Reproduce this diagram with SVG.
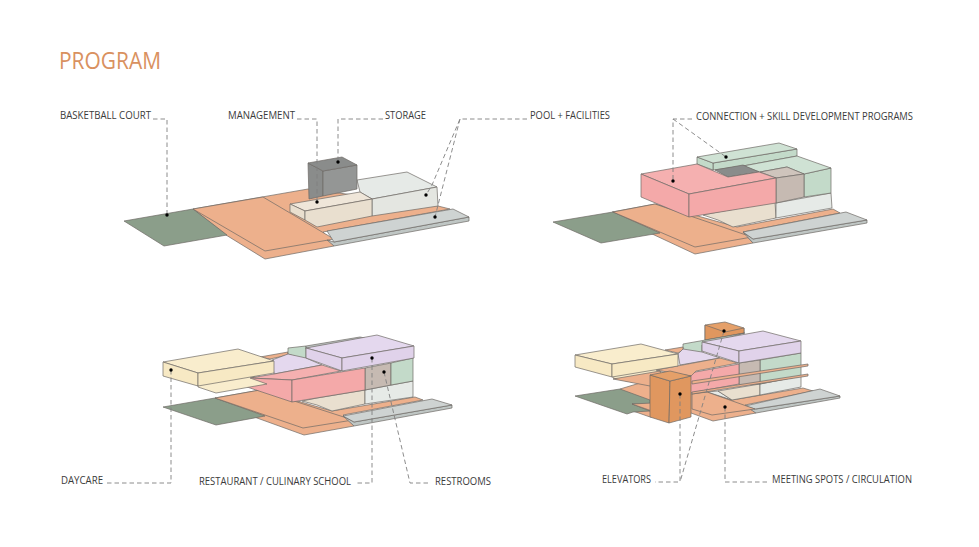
<svg xmlns="http://www.w3.org/2000/svg" width="979" height="547" viewBox="0 0 979 547">
<style>
text{font-family:"Open Sans","Noto Sans","Liberation Sans",sans-serif;font-size:11px;fill:#3a3a3a}
.title{font-size:24px;font-weight:400;fill:#d9915f}
polygon{stroke:#6f6a66;stroke-width:.7;stroke-linejoin:round}
.ct{fill:#8b9e8a}.o{fill:#edb08c}.g{fill:#ced3d2}.g2{fill:#bfc6c4}
.b{fill:#e9dfcf}.b2{fill:#efe6d9}.w{fill:#e6eae7}.w2{fill:#e4e6e1}
.d{fill:#8a8c8b}.d2{fill:#949695}.t{fill:#c6bab2}.t2{fill:#cfc4bc}
.gr{fill:#c3dac9}.gr2{fill:#cfe2d4}.p{fill:#f4a9a9}.p2{fill:#f5b0b0}
.v{fill:#e0d2ea}.v2{fill:#e4d8ee}.c{fill:#f7e9c4}.c2{fill:#f9edcd}
.e{fill:#e0975f}.e2{fill:#e5a069}
.l{fill:none;stroke:#808080;stroke-width:.9;stroke-dasharray:4.5 3}
.dot{fill:#000}
</style>
<rect width="979" height="547" fill="#fff"/>
<text class="title" x="59" y="69" textLength="102" lengthAdjust="spacingAndGlyphs">PROGRAM</text>

<g id="scene-1">
<polygon class="o" points="193,209 308,189 438,206 450,209 323,232 334,246 265,259 226,235"/>
<polygon class="ct" points="124,221 193,209 227,235 164,246"/>
<polygon class="o" points="193,209 263,197 334,239 265,251"/>
<polygon class="g2" points="327,240 334,242 469,217 469,221 334,246"/>
<polygon class="g" points="327,231 453,209 469,217 334,242"/>
<polygon class="w" points="357,180 407,172 437,187 372,199 360,192"/>
<polygon class="w2" points="372,199 437,187 438,206 372,216"/>
<polygon class="d" points="308,163 323,171 323,196 309,199"/>
<polygon class="d2" points="323,171 357,165 357,189 323,196"/>
<polygon class="d" points="308,163 342,157 357,165 323,171"/>
<polygon class="b2" points="290,204 360,192 372,199 305,211"/>
<polygon class="b" points="290,204 305,211 305,220 290,212"/>
<polygon class="b" points="305,211 372,199 372,216 317,227 305,220"/>
</g>

<g id="scene-2">
<polygon class="o" points="612,212 655,204 737,227 833,209 840,213 743,232 753,243 695,254 650,233"/>
<polygon class="ct" points="553,222 613,212 660,233 601,243"/>
<polygon class="o" points="613,212 655,204 752,237 695,247"/>
<polygon class="g2" points="743,232 753,239 867,220 867,223 753,243"/>
<polygon class="g" points="743,232 846,212 867,220 753,239"/>
<polygon class="b" points="703,215 718,212 775,202 776,218 733,227 718,220"/>
<polygon class="w" points="776,203 831,193 832,208 776,218"/>
<polygon class="gr" points="804,174 831,168 831,193 804,197"/>
<polygon class="gr" points="713,163 797,149 797,156 743,166 713,170"/>
<polygon class="gr2" points="743,166 797,156 831,168 804,174 787,167 760,172"/>
<polygon class="t2" points="760,172 787,167 804,174 776,178"/>
<polygon class="t" points="776,178 804,174 804,197 776,203"/>
<polygon class="gr" points="697,157 713,163 713,170 697,164"/>
<polygon class="gr2" points="697,157 779,143 797,149 713,163"/>
<polygon class="d" points="715,170 743,165 759,172 728,177"/>
<polygon class="p2" points="641,174 697,164 728,177 759,172 776,178 689,194"/>
<polygon class="p" points="641,174 689,194 689,217 641,197"/>
<polygon class="p" points="689,194 776,178 776,203 689,217"/>
</g>

<g id="scene-3">
<polygon class="o" points="215,398 260,390 332,411 415,397 423,400 343,415 354,426 304,435 257,418"/>
<polygon class="ct" points="163,407 215,398 265,416 216,425"/>
<polygon class="o" points="215,398 260,390 353,420 303,428"/>
<polygon class="g2" points="343,416 354,422 452,405 452,408 354,426"/>
<polygon class="g" points="343,416 432,399 452,405 354,422"/>
<polygon class="b" points="302,401 317,398 365,390 365,404 332,411 317,405"/>
<polygon class="w" points="365,390 413,381 413,397 365,404"/>
<polygon class="t" points="365,368 391,363 391,385 365,390"/>
<polygon class="gr" points="391,363 413,358 413,381 391,385"/>
<polygon class="o" points="260,357 288,352 288,355 270,359"/>
<polygon class="gr" points="288,348 306,346 306,360 288,354"/>
<polygon class="g2" points="306,346 360,337 365,338 306,349"/>
<polygon class="v2" points="272,360 288,354 306,358 322,365 274,374"/>
<polygon class="p2" points="250,378 274,374 322,365 341,371 292,380"/>
<polygon class="p" points="250,378 292,380 292,402 247,387"/>
<polygon class="p" points="292,380 365,368 365,390 292,402"/>
<polygon class="v2" points="306,348 377,335 414,346 342,358"/>
<polygon class="v" points="306,348 342,358 342,371 306,358"/>
<polygon class="v" points="342,358 414,346 414,358 342,371"/>
<polygon class="c2" points="198,380 274,370 250,378 267,384 216,393 198,387"/>
<polygon class="c2" points="163,362 238,349 274,361 198,373"/>
<polygon class="c" points="163,362 198,373 198,386 163,376"/>
<polygon class="c" points="198,373 274,361 274,373 198,386"/>
</g>

<g id="scene-4">
<polygon class="o" points="620,389 650,380 692,394 707,392 732,400 803,388 813,391 745,405 756,413 713,421 691,413 650,417 633,411"/>
<polygon class="ct" points="575,396 620,389 650,400 650,404 632,404 650,411 633,412 627,414"/>
<polygon class="o" points="632,404 652,403 652,411"/>
<polygon class="g2" points="745,406 756,409 840,396 840,398 756,413"/>
<polygon class="g" points="745,406 820,389 840,396 755,409"/>
<polygon class="w" points="707,392 718,391 732,400"/>
<polygon class="b" points="718,391 760,384 760,395 732,400"/>
<polygon class="w" points="760,384 801,376 801,387 760,395"/>
<polygon class="gr" points="760,360 801,353 801,376 760,384"/>
<polygon class="t" points="739,363 760,360 760,384 739,385"/>
<polygon class="o" points="692,394 707,392 755,409 712,415 692,409"/>
<polygon class="e2" points="705,325 725,322 744,328 744,333 705,340"/>
<polygon class="e" points="705,325 725,332 744,328 744,333 705,340"/>
<polygon class="gr" points="683,344 745,333 702,345 702,355 683,350"/>
<polygon class="o" points="665,350 683,347 683,350 678,353"/>
<polygon class="v2" points="678,354 683,349 702,352 720,358 680,365"/>
<polygon class="p" points="690,373 739,364 739,384 690,393"/>
<polygon class="o" points="656,370 720,358 738,363 696,371 691,376"/>
<polygon class="c2" points="612,372 678,362 656,370 665,373 632,382 613,378"/>
<polygon class="o" points="613,379 660,371 665,390 650,386"/>
<polygon class="o" points="692,381 808,364 808,366 692,384"/>
<polygon class="o" points="692,392 808,374 808,376 692,394"/>
<polygon class="v2" points="702,342 763,331 801,341 739,351"/>
<polygon class="v" points="702,342 739,351 739,363 702,351"/>
<polygon class="v" points="739,351 801,341 801,353 739,363"/>
<polygon class="c2" points="575,355 641,344 678,354 612,364"/>
<polygon class="c" points="575,355 612,364 612,377 575,367"/>
<polygon class="c" points="612,364 678,354 678,366 612,377"/>
<polygon class="e" points="650,375 670,381 669,423 650,417"/>
<polygon class="e" points="670,381 691,376 691,417 669,423"/>
<polygon class="e2" points="650,375 670,371 691,376 670,381"/>
</g>

<g id="connectors">
<path class="l" d="M153 119H167V215"/>
<path class="l" d="M297 119H317V202"/>
<path class="l" d="M383 119H338V162"/>
<path class="l" d="M527 119H460L432 185L426 195M460 119L435 217"/>
<path class="l" d="M692 119H673V181M673 119L726 157"/>
<path class="l" d="M171 370V483H105"/>
<path class="l" d="M372 358V483H355"/>
<path class="l" d="M384 372L410 483H431"/>
<path class="l" d="M680 394V482H655M724 331L680 482"/>
<path class="l" d="M725 407V482H768"/>
<g class="dot">
<circle cx="167" cy="215" r="1.7"/><circle cx="317" cy="202" r="1.7"/><circle cx="338" cy="162" r="1.7"/><circle cx="426" cy="195" r="1.7"/><circle cx="435" cy="217" r="1.7"/>
<circle cx="673" cy="181" r="1.7"/><circle cx="726" cy="157" r="1.7"/>
<circle cx="171" cy="370" r="1.7"/><circle cx="372" cy="358" r="1.7"/><circle cx="384" cy="372" r="1.7"/>
<circle cx="680" cy="394" r="1.7"/><circle cx="724" cy="331" r="1.7"/><circle cx="725" cy="407" r="1.7"/>
</g>
</g>

<g id="labels">
<text x="60" y="119" textLength="91" lengthAdjust="spacingAndGlyphs">BASKETBALL COURT</text>
<text x="228" y="119" textLength="67" lengthAdjust="spacingAndGlyphs">MANAGEMENT</text>
<text x="385" y="119" textLength="41" lengthAdjust="spacingAndGlyphs">STORAGE</text>
<text x="530" y="119" textLength="80" lengthAdjust="spacingAndGlyphs">POOL + FACILITIES</text>
<text x="696" y="120" textLength="217" lengthAdjust="spacingAndGlyphs">CONNECTION + SKILL DEVELOPMENT PROGRAMS</text>
<text x="61" y="484" textLength="42" lengthAdjust="spacingAndGlyphs">DAYCARE</text>
<text x="199" y="485" textLength="152" lengthAdjust="spacingAndGlyphs">RESTAURANT / CULINARY SCHOOL</text>
<text x="435" y="485" textLength="56" lengthAdjust="spacingAndGlyphs">RESTROOMS</text>
<text x="602" y="483" textLength="49" lengthAdjust="spacingAndGlyphs">ELEVATORS</text>
<text x="772" y="483" textLength="140" lengthAdjust="spacingAndGlyphs">MEETING SPOTS / CIRCULATION</text>
</g>
</svg>
